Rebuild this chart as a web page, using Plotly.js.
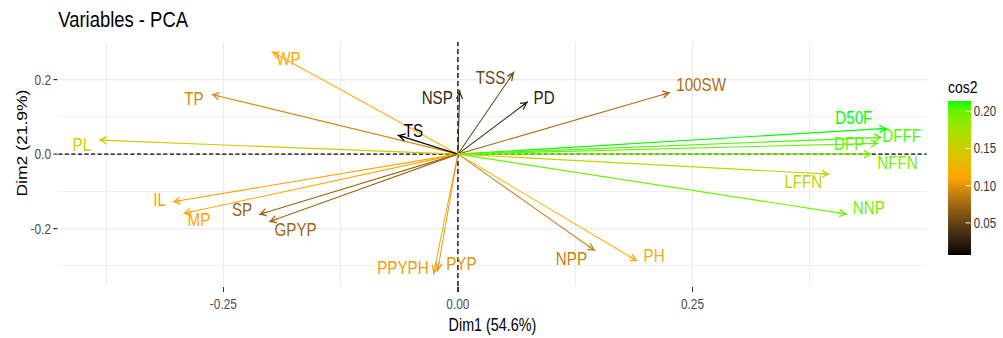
<!DOCTYPE html>
<html><head><meta charset="utf-8">
<script src="https://cdn.plot.ly/plotly-3.0.1.min.js"></script>
<style>
html,body{margin:0;padding:0;background:#fff;overflow:hidden;}
#wrap{width:1003px;height:338px;overflow:hidden;position:relative;background:#fff;}
#chart{position:absolute;left:0;top:0;transform-origin:0 0;}
</style></head><body>
<div id="wrap"><div id="chart"></div></div>
<script>
// ---- data ----
const variables = ['PL','WP','TP','NSP','TSS','PD','TS','100SW','D50F','DFFF','DFP','NFFN','LFFN','NNP','IL','MP','SP','GPYP','PPYPH','PYP','NPP','PH'];
const dim1 = [-0.3823,-0.1983,-0.2623,0.0020,0.0599,0.0745,-0.0640,0.2261,0.4570,0.4517,0.4480,0.4407,0.3959,0.4144,-0.3038,-0.2925,-0.2118,-0.2012,-0.0261,-0.0218,0.1462,0.1913];
const dim2 = [0.0376,0.2746,0.1602,0.1718,0.2210,0.1405,0.0510,0.1655,0.0690,0.0450,0.0290,0.0000,-0.0537,-0.1611,-0.1280,-0.1592,-0.1619,-0.1817,-0.3230,-0.3159,-0.2595,-0.2872];
const cos2 = [0.1476,0.1147,0.0945,0.0295,0.0524,0.0253,0.0067,0.0785,0.2136,0.2060,0.2015,0.1942,0.1596,0.1977,0.1087,0.1109,0.0711,0.0735,0.1050,0.1003,0.0887,0.1191];
const labelDim1 = [-0.4008,-0.1806,-0.2814,-0.0220,0.0348,0.0919,-0.0474,0.2592,0.4220,0.4730,0.4171,0.4686,0.3682,0.4379,-0.3179,-0.2760,-0.2300,-0.1730,-0.0586,0.0037,0.1210,0.2091];
const labelDim2 = [0.0196,0.2523,0.1455,0.1471,0.2008,0.1471,0.0577,0.1831,0.0945,0.0462,0.0228,-0.0264,-0.0792,-0.1481,-0.1258,-0.1817,-0.1539,-0.2063,-0.3092,-0.2989,-0.2846,-0.2779];
const xTickVals = [-0.25, 0, 0.25];
const xTickText = ['-0.25','0.00','0.25'];
const xMinorVals = [-0.375,-0.125,0.125,0.375];
const yTickVals = [-0.2, 0, 0.2];
const yTickText = ['-0.2','0.0','0.2'];
const yMinorVals = [-0.3,-0.1,0.1,0.3];
const cos2TickVals = [0.05,0.10,0.15,0.20];
const cos2TickText = ['0.05','0.10','0.15','0.20'];
const gradientCols = ['#000000','#FFA500','#00FF00'];

// ---- colour interpolation in Lab space (like ggplot's gradientn) ----
function hex2rgb(h){return [parseInt(h.slice(1,3),16),parseInt(h.slice(3,5),16),parseInt(h.slice(5,7),16)];}
function lin(c){c/=255;return c<=0.04045?c/12.92:Math.pow((c+0.055)/1.055,2.4);}
function unlin(c){c=Math.max(0,c);const v=c<=0.0031308?12.92*c:1.055*Math.pow(c,1/2.4)-0.055;return Math.max(0,Math.min(255,Math.round(v*255)));}
const WX=0.95047,WY=1,WZ=1.08883;
function ff(t){return t>0.008856?Math.cbrt(t):7.787*t+16/116;}
function finv(t){return t>0.206893?t*t*t:(t-16/116)/7.787;}
function rgb2lab(rgb){const r=lin(rgb[0]),g=lin(rgb[1]),b=lin(rgb[2]);
  const X=(0.4124*r+0.3576*g+0.1805*b)/WX,Y=(0.2126*r+0.7152*g+0.0722*b)/WY,Z=(0.0193*r+0.1192*g+0.9505*b)/WZ;
  const fx=ff(X),fy=ff(Y),fz=ff(Z);return [116*fy-16,500*(fx-fy),200*(fy-fz)];}
function lab2rgb(lab){const fy=(lab[0]+16)/116,fx=fy+lab[1]/500,fz=fy-lab[2]/200;
  const X=finv(fx)*WX,Y=finv(fy)*WY,Z=finv(fz)*WZ;
  const r=3.2406*X-1.5372*Y-0.4986*Z,g=-0.9689*X+1.8758*Y+0.0415*Z,b=0.0557*X-0.2040*Y+1.0570*Z;
  return 'rgb('+unlin(r)+','+unlin(g)+','+unlin(b)+')';}
const labs = gradientCols.map(c=>rgb2lab(hex2rgb(c)));
function colorAt(t){t=Math.max(0,Math.min(1,t));const n=labs.length-1;let i=Math.min(n-1,Math.floor(t*n));const u=t*n-i;
  const a=labs[i],b=labs[i+1];return lab2rgb([a[0]+(b[0]-a[0])*u,a[1]+(b[1]-a[1])*u,a[2]+(b[2]-a[2])*u]);}
const cmin = Math.min(...cos2), cmax = Math.max(...cos2);
const colorscale = [];
for(let i=0;i<=24;i++){colorscale.push([i/24, colorAt(i/24)]);}
const cols = cos2.map(v=>colorAt((v-cmin)/(cmax-cmin)));

// ---- geometry (drawn wider, then squeezed horizontally like the reference) ----
const W = 1223, H = 338, K = 1003/W;
const mL = 58.3/K, mR = (1003-926.7)/K, mT = 41.7, mB = 52;
const xRange = [-0.426, 0.4997], yRange = [-0.354, 0.301];
const plotW = W-mL-mR, plotH = H-mT-mB;
const sx = plotW/(xRange[1]-xRange[0]), sy = plotH/(yRange[1]-yRange[0]);
document.getElementById('chart').style.transform = 'scaleX('+K+')';

const FONT = '"Liberation Sans", Arial, sans-serif';
const traces = [];
variables.forEach((v,i)=>{
  traces.push({type:'scatter',mode:'lines',x:[0,dim1[i]],y:[0,dim2[i]],
    line:{color:cols[i],width:1.1},hoverinfo:'skip',showlegend:false});
});
traces.push({type:'scatter',mode:'markers',x:dim1,y:dim2,text:variables,showlegend:false,hoverinfo:'text',
  marker:{size:1,color:cos2,colorscale:colorscale,cmin:cmin,cmax:cmax,showscale:true,
    colorbar:{title:{text:'cos2',side:'top',font:{size:17,color:'#000',family:FONT}},
      x:1.0245,xanchor:'left',xpad:0,y:(286-166)/plotH,yanchor:'middle',ypad:0,
      len:178,lenmode:'pixels',thickness:23/K,thicknessmode:'pixels',outlinewidth:0,
      tickvals:cos2TickVals,ticktext:cos2TickText,ticks:'inside',ticklen:5/K,tickcolor:'#fff',tickwidth:1,
      tickfont:{size:14,color:'#333',family:FONT}}}});
traces.push({type:'scatter',mode:'text',x:labelDim1,y:labelDim2,text:variables,hoverinfo:'skip',showlegend:false,
  textposition:'middle center',textfont:{size:18.5,color:cols,family:FONT}});

const annotations = variables.map((v,i)=>{
  const px = dim1[i]*sx, py = dim2[i]*sy, len = Math.hypot(px,py), L = 12;
  return {x:dim1[i],y:dim2[i],xref:'x',yref:'y',text:'',showarrow:true,arrowhead:5,arrowsize:1.3,arrowwidth:1.1,
    arrowcolor:cols[i],ax:-px/len*L,ay:py/len*L,standoff:0};
});
annotations.push({text:'Dim1 (54.6%)',xref:'paper',yref:'paper',x:0.5,y:(286-325)/plotH,xanchor:'center',yanchor:'middle',
  showarrow:false,font:{size:17.5,color:'#000',family:FONT}});
annotations.push({text:'Dim2 (21.9%)',xref:'paper',yref:'paper',x:(22.5-58.3)/868.4,y:(286-143)/plotH,xanchor:'center',yanchor:'middle',
  textangle:-90,showarrow:false,font:{size:17.5,color:'#000',family:FONT}});

const gridCol = '#EBEBEB';
const layout = {
  width:W,height:H,margin:{l:mL,r:mR,t:mT,b:mB,autoexpand:false,pad:0},
  paper_bgcolor:'#fff',plot_bgcolor:'#fff',hovermode:'closest',
  font:{family:FONT},
  title:{text:'Variables - PCA',font:{size:22.5,color:'#000',family:FONT},x:0,xref:'paper',xanchor:'left',
    y:1-19/H,yref:'container',yanchor:'middle'},
  xaxis:{range:xRange,tickmode:'array',tickvals:xTickVals,ticktext:xTickText,showgrid:true,gridcolor:gridCol,gridwidth:1.2/K,
    zeroline:false,showline:false,ticks:'outside',ticklen:5,tickwidth:1.2/K,tickcolor:'#333',
    tickfont:{size:14.5,color:'#4D4D4D',family:FONT},
    minor:{tickmode:'array',tickvals:xMinorVals,showgrid:true,gridcolor:gridCol,gridwidth:0.8/K,ticks:''}},
  yaxis:{range:yRange,tickmode:'array',tickvals:yTickVals,ticktext:yTickText,showgrid:true,gridcolor:gridCol,gridwidth:1.2,
    zeroline:false,showline:false,ticks:'outside',ticklen:4/K,tickwidth:1.2,tickcolor:'#333',
    tickfont:{size:14.5,color:'#4D4D4D',family:FONT},
    minor:{tickmode:'array',tickvals:yMinorVals,showgrid:true,gridcolor:gridCol,gridwidth:0.8,ticks:''}},
  shapes:[
    {type:'line',xref:'x',yref:'y',x0:xRange[0],x1:xRange[1],y0:0,y1:0,layer:'between',line:{color:'#000',width:1.3,dash:'5px,3px'}},
    {type:'line',xref:'x',yref:'y',x0:0,x1:0,y0:yRange[0],y1:yRange[1],layer:'between',line:{color:'#000',width:1.3/K,dash:'5px,3px'}}
  ],
  annotations:annotations,showlegend:false
};
Plotly.newPlot('chart',traces,layout,{displayModeBar:false,staticPlot:true});
</script>
</body></html>
